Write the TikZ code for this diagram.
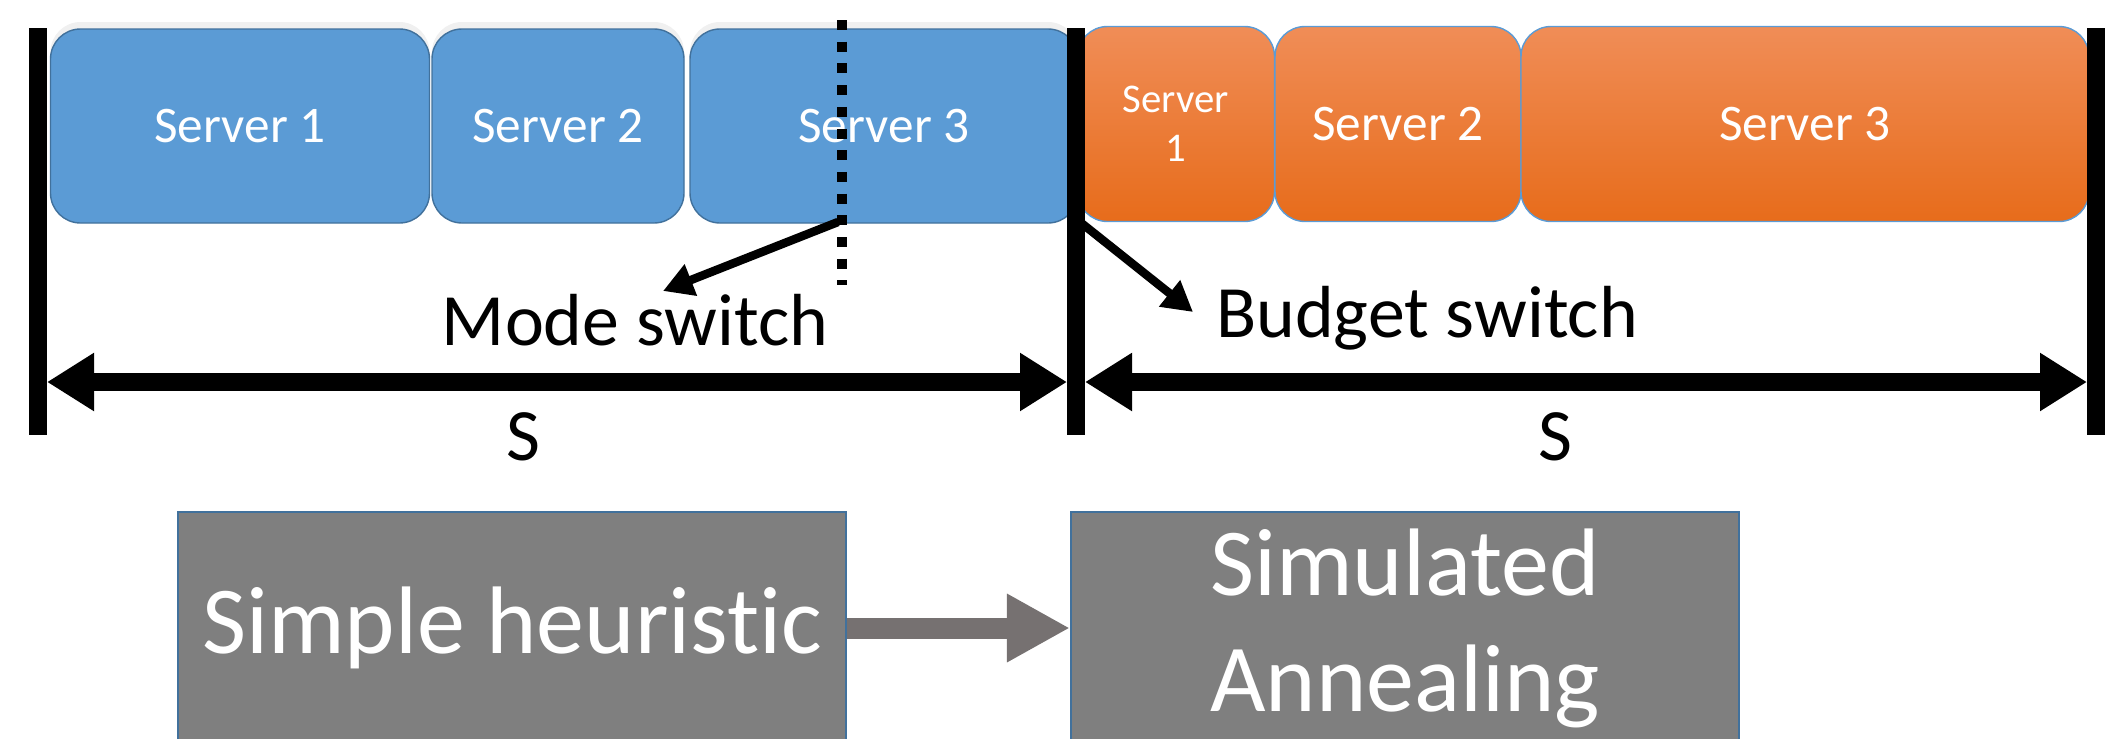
\documentclass[tikz,border=0pt]{standalone}
\usepackage{fontspec}
\setmainfont{Carlito}[Ligatures=NoCommon]
\usetikzlibrary{arrows.meta,shadows}
\definecolor{srvblue}{RGB}{91,155,213}
\definecolor{srvedge}{RGB}{65,113,156}
\definecolor{orgtop}{RGB}{240,141,87}
\definecolor{orgmid}{RGB}{242,126,50}
\definecolor{orgbot}{RGB}{231,108,27}
\definecolor{stagegray}{RGB}{127,127,127}
\definecolor{arrowgray}{RGB}{118,113,113}
\begin{document}
\begin{tikzpicture}[x=0.1mm, y=-0.1mm,
    blueserver/.style ={rectangle, rounded corners=3mm, draw=srvedge, line width=0.4pt, fill=srvblue, text=white, inner sep=0pt, minimum height=19.4mm, font=\fontsize{14.6}{17}\selectfont, drop shadow={shadow xshift=0pt, shadow yshift=0.7mm, opacity=0.12}},
    orangeserver/.style ={rectangle, rounded corners=3mm, draw=srvblue, line width=0.4pt, top color=orgtop, middle color=orgmid, bottom color=orgbot, text=white, inner sep=0pt, minimum height=19.5mm, font=\fontsize{14.6}{17}\selectfont},
    stage/.style ={rectangle, draw=srvedge, line width=0.6pt, fill=stagegray, text=white, inner sep=0pt, minimum width=66.8mm, minimum height=23.2mm, align=center, font=\fontsize{27.3}{33}\selectfont},
    bar/.style ={line width=1.8mm, black},
    span/.style ={line width=1.8mm, black, {Triangle[length=4.7mm,width=5.5mm]}-{Triangle[length=4.7mm,width=5.5mm]}},
    pointer/.style ={line width=0.85mm, black, -{Triangle[length=3mm,width=3.2mm]}},
    caption/.style ={anchor=base, inner sep=0pt, font=\fontsize{21}{25}\selectfont}]
   \useasboundingbox (0,0) rectangle (2120,738);
   \node[blueserver, minimum width=37.9mm] (bs1) at (240,126) {Server 1};
   \node[blueserver, minimum width=25.2mm] (bs2) at (558,126) {Server 2};
   \node[blueserver, minimum width=38.8mm] (bs3) at (884,126) {Server 3};
   \node[orangeserver, minimum width=19.7mm, align=center, font=\fontsize{11.6}{14}\selectfont] (os1) at (1176,124) {Server\\1};
   \node[orangeserver, minimum width=24.6mm] (os2) at (1398,124) {Server 2};
   \node[orangeserver, minimum width=56.8mm] (os3) at (1805,124) {Server 3};
   \coordinate (d0) at (842,20);
   \coordinate (d1) at (842,285);
   \draw[line width=1mm, dash pattern=on 1mm off 1.17mm] (d0) -- (d1);
   \coordinate (l0) at (38,28);
   \coordinate (l1) at (38,435);
   \coordinate (m0) at (1076,28);
   \coordinate (m1) at (1076,435);
   \coordinate (r0) at (2096,28);
   \coordinate (r1) at (2096,435);
   \draw[bar] (l0) -- (l1);
   \draw[bar] (m0) -- (m1);
   \draw[bar] (r0) -- (r1);
   \coordinate (sl0) at (47,382);
   \coordinate (sl1) at (1067,382);
   \coordinate (sr0) at (1085,382);
   \coordinate (sr1) at (2087,382);
   \draw[span] (sl0) -- (sl1);
   \draw[span] (sr0) -- (sr1);
   \node[caption] (sleft) at (523,460) {S};
   \node[caption] (sright) at (1555,460) {S};
   \node[caption] (mode) at (635,345) {Mode switch};
   \node[caption] (budget) at (1427,337) {Budget switch};
   \coordinate (ms0) at (838,222);
   \coordinate (ms1) at (663,291);
   \coordinate (bw0) at (1080,222);
   \coordinate (bw1) at (1193,312);
   \draw[pointer] (ms0) -- (ms1);
   \draw[pointer] (bw0) -- (bw1);
   \node[stage] (heur) at (512,628) {Simple heuristic};
   \node[stage] (anneal) at (1405,628) {Simulated\\Annealing};
   \draw[line width=2.1mm, arrowgray, -{Triangle[length=6.3mm,width=6.4mm]}] (heur) -- (anneal);
 \end{tikzpicture}
\end{document}
